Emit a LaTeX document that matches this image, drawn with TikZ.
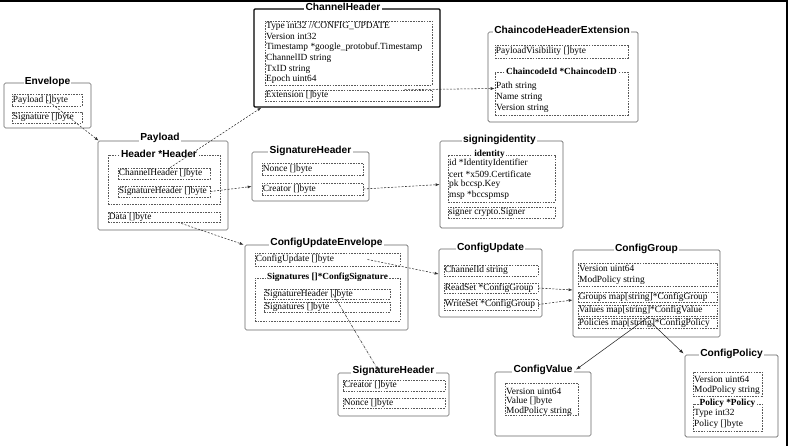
\documentclass[tikz,border=0pt]{standalone}
\usepackage{fontspec}
\setmainfont{Liberation Serif}
\newfontfamily\hsans{Liberation Sans}
\usetikzlibrary{fit,arrows.meta}
\tikzset{
  obox/.style={draw=black!60, line width=0.7pt, rounded corners=1.5pt, inner sep=0pt},
  hbox/.style={draw=black, line width=1.3pt, rounded corners=1pt, inner sep=0pt},
  dbox/.style={draw=black!65, line width=0.55pt, dash pattern=on 1.6pt off 1.1pt, inner sep=0pt},
  ttl/.style={fill=white, inner sep=1.2pt, font=\hsans\bfseries\fontsize{10.2}{12}\selectfont},
  dttl/.style={fill=white, inner sep=1pt, font=\bfseries\fontsize{9.3}{11}\selectfont},
  txt/.style={anchor=west, inner sep=0pt, font=\fontsize{9.4}{11}\selectfont},
  conn/.style={draw=black!80, line width=0.55pt, dash pattern=on 2pt off 1.5pt, -{Latex[length=4pt,width=3pt]}},
  conndd/.style={draw=black!80, line width=0.55pt, dash pattern=on 3pt off 1.2pt on 0.6pt off 1.2pt, -{Latex[length=4pt,width=3pt]}},
  solidarr/.style={draw=black!85, line width=0.55pt, -{Latex[length=4.5pt,width=3.2pt]}}
}
\begin{document}
\begin{tikzpicture}[x=1pt,y=-1pt]
\useasboundingbox (0,0) rectangle (788,446);
\fill[black] (0,0) rectangle (788,2.5);
\fill[black] (785.5,0) rectangle (788,446);

% ---------- Envelope
\node[obox, fit={(4,83)(91,128)}] (env) {};
\node[ttl] (envt) at ([yshift=1pt]env.north) {Envelope};
\node[dbox, fit={(12,94)(82,106)}] (envpay) {};
\node[txt] (envpayt) at ([xshift=1pt]envpay.west) {Payload []byte};
\node[dbox, fit={(12,112)(82,123)}] (envsig) {};
\node[txt] (envsigt) at ([xshift=1pt]envsig.west) {Signature []byte};

% ---------- Payload
\node[obox, fit={(98,141)(228,230)}] (pl) {};
\node[ttl] (plt) at ([xshift=-3pt,yshift=3pt]pl.north) {Payload};
\node[dbox, fit={(108,155)(220,204)}] (hdr) {};
\node[ttl, inner sep=0.8pt] (hdrt) at ([xshift=-5pt,yshift=1pt]hdr.north) {Header *Header};
\node[dbox, fit={(118,168)(210,179)}] (plch) {};
\node[txt] (plcht) at ([xshift=1pt]plch.west) {ChannelHeader []byte};
\node[dbox, fit={(118,186)(210,197)}] (plsh) {};
\node[txt] (plsht) at ([xshift=1pt]plsh.west) {SignatureHeader []byte};
\node[dbox, fit={(108,212)(220,222)}] (pldata) {};
\node[txt] (pldatat) at ([xshift=1pt]pldata.west) {Data []byte};

% ---------- ChannelHeader
\node[hbox, fit={(254,9)(440,107)}] (ch) {};
\node[ttl] (cht) at ([xshift=-4pt,yshift=1pt]ch.north) {ChannelHeader};
\node[dbox, fit={(265,21)(432,85)}] (chf) {};
\node[txt] (ch1) at (266,26) {Type int32 //CONFIG\_UPDATE};
\node[txt] (ch2) at (266,36.5) {Version int32};
\node[txt] (ch3) at (266,47.5) {Timestamp *google\_protobuf.Timestamp};
\node[txt] (ch4) at (266,58.5) {ChannelID string};
\node[txt] (ch5) at (266,69) {TxID string};
\node[txt] (ch6) at (266,79.5) {Epoch uint64};
\node[dbox, fit={(265,90)(432,101)}] (chext) {};
\node[txt] (chextt) at ([xshift=1pt]chext.west) {Extension []byte};

% ---------- ChaincodeHeaderExtension
\node[obox, fit={(488,32)(638,122)}] (che) {};
\node[ttl] (chet) at ([xshift=-1pt,yshift=1.5pt]che.north) {ChaincodeHeaderExtension};
\node[dbox, fit={(495,45)(628,58)}] (chepv) {};
\node[txt] (chepvt) at ([xshift=1pt]chepv.west) {PayloadVisibility []byte};
\node[dbox, fit={(495,72)(628,115)}] (cheid) {};
\node[dttl] (cheidt) at (cheid.north) {ChaincodeId *ChaincodeID};
\node[txt] (che1) at (496,86) {Path string};
\node[txt] (che2) at (496,97) {Name string};
\node[txt] (che3) at (496,108) {Version string};

% ---------- SignatureHeader (top)
\node[obox, fit={(252,152)(369,201)}] (sh1) {};
\node[ttl] (sh1t) at ([yshift=1pt]sh1.north) {SignatureHeader};
\node[dbox, fit={(262,163)(363,175)}] (sh1n) {};
\node[txt] (sh1nt) at ([xshift=1pt]sh1n.west) {Nonce []byte};
\node[dbox, fit={(262,183)(363,195)}] (sh1c) {};
\node[txt] (sh1ct) at ([xshift=1pt]sh1c.west) {Creator []byte};

% ---------- signingidentity
\node[obox, fit={(440,141)(563,228)}] (si) {};
\node[ttl] (sit) at ([xshift=-2pt,yshift=1pt]si.north) {signingidentity};
\node[dbox, fit={(448,155)(555,202)}] (siid) {};
\node[dttl] (siidt) at ([xshift=-12pt]siid.north) {identity};
\node[txt] (si1) at (449,163) {id *IdentityIdentifier};
\node[txt] (si2) at (449,174) {cert *x509.Certificate};
\node[txt] (si3) at (449,184.5) {pk bccsp.Key};
\node[txt] (si4) at (449,195) {msp *bccspmsp};
\node[dbox, fit={(448,207)(555,218)}] (sisg) {};
\node[txt] (sisgt) at ([xshift=1pt]sisg.west) {signer crypto.Signer};

% ---------- ConfigUpdateEnvelope
\node[obox, fit={(245,245)(408,330)}] (cue) {};
\node[ttl] (cuet) at ([yshift=1.5pt]cue.north) {ConfigUpdateEnvelope};
\node[dbox, fit={(255,253)(400,266)}] (cuecu) {};
\node[txt] (cuecut) at ([xshift=1pt]cuecu.west) {ConfigUpdate []byte};
\node[dbox, fit={(255,278)(400,321)}] (cuesig) {};
\node[dttl] (cuesigt) at (cuesig.north) {Signatures []*ConfigSignature};
\node[dbox, fit={(264,289)(390,299)}] (cusigh) {};
\node[txt] (cusight) at ([xshift=1pt]cusigh.west) {SignatureHeader []byte};
\node[dbox, fit={(264,302)(390,312)}] (cusigs) {};
\node[txt] (cusigst) at ([xshift=1pt]cusigs.west) {Signatures []byte};

% ---------- ConfigUpdate
\node[obox, fit={(439,249)(542,317)}] (cu) {};
\node[ttl] (cut) at ([yshift=1pt]cu.north) {ConfigUpdate};
\node[dbox, fit={(444,265)(538,276)}] (cuci) {};
\node[txt] (cucit) at ([xshift=1pt]cuci.west) {ChannelId string};
\node[dbox, fit={(444,283)(538,293)}] (curs) {};
\node[txt] (curst) at ([xshift=1pt]curs.west) {ReadSet *ConfigGroup};
\node[dbox, fit={(444,299)(538,310)}] (cuws) {};
\node[txt] (cuwst) at ([xshift=1pt]cuws.west) {WriteSet *ConfigGroup};

% ---------- ConfigGroup
\node[obox, fit={(573,250)(720,337)}] (cg) {};
\node[ttl] (cgt) at ([yshift=1pt]cg.north) {ConfigGroup};
\node[dbox, fit={(578,263)(717,286)}] (cgv) {};
\node[txt] (cg1) at (579,268.5) {Version uint64};
\node[txt] (cg2) at (579,280) {ModPolicy string};
\node[dbox, fit={(578,292)(717,302)}] (cggr) {};
\node[txt] (cggrt) at ([xshift=1pt]cggr.west) {Groups map[string]*ConfigGroup};
\node[dbox, fit={(578,305)(717,316)}] (cgval) {};
\node[txt] (cgvalt) at ([xshift=1pt]cgval.west) {Values map[string]*ConfigValue};
\node[dbox, fit={(578,318)(717,328)}] (cgpol) {};
\node[txt] (cgpolt) at ([xshift=1pt]cgpol.west) {Policies map[string]*ConfigPolicy};

% ---------- SignatureHeader (bottom)
\node[obox, fit={(338,373)(449,416)}] (sh2) {};
\node[ttl] (sh2t) at ([yshift=1.5pt]sh2.north) {SignatureHeader};
\node[dbox, fit={(343,380)(445,391)}] (sh2c) {};
\node[txt] (sh2ct) at ([xshift=1pt]sh2c.west) {Creator []byte};
\node[dbox, fit={(343,398)(445,408)}] (sh2n) {};
\node[txt] (sh2nt) at ([xshift=1pt]sh2n.west) {Nonce []byte};

% ---------- ConfigValue
\node[obox, fit={(495,372)(591,436)}] (cv) {};
\node[ttl] (cvt) at ([yshift=2pt]cv.north) {ConfigValue};
\node[dbox, fit={(505,383)(578,415)}] (cvf) {};
\node[txt] (cv1) at (506,391.5) {Version uint64};
\node[txt] (cv2) at (506,401.5) {Value []byte};
\node[txt] (cv3) at (506,411) {ModPolicy string};

% ---------- ConfigPolicy
\node[obox, fit={(685,355)(778,437)}] (cp) {};
\node[ttl] (cpt) at ([yshift=1pt]cp.north) {ConfigPolicy};
\node[dbox, fit={(693,372)(762,396)}] (cpv) {};
\node[txt] (cp1) at (694,379.5) {Version uint64};
\node[txt] (cp2) at (694,390) {ModPolicy string};
\node[dbox, fit={(693,404)(762,431)}] (cpp) {};
\node[dttl] (cppt) at (cpp.north) {Policy *Policy};
\node[txt] (cp3) at (694,413.5) {Type int32};
\node[txt] (cp4) at (694,424) {Policy []byte};

% ---------- connectors
\draw[conn] (envpay.center) -- ([xshift=1pt]pl.north west);
\draw[conn] ([xshift=6pt]plch.north) -- ([xshift=8pt]ch.south west);
\draw[conn] (plsh.east) -- ([yshift=-10pt]sh1.west);
\draw[conn] ([xshift=14pt]pldata.south) -- ([xshift=-1pt]cue.north west);
\draw[conn] ([xshift=56pt]chext.north) -- ([yshift=5pt]cheid.west);
\draw[conn] (sh1c.east) -- (si.west);
\draw[conn] ([xshift=40pt]cuecu.center) -- ([yshift=9pt]cu.west);
\draw[conndd] ([xshift=6pt]cusigh.center) -- ([xshift=-15pt,yshift=2pt]sh2.north);
\draw[conn] (curs.east) -- ([yshift=3.5pt]cg.west);
\draw[conn] (cuws.east) -- ([yshift=-6.5pt]cg.west);
\draw[solidarr] ([xshift=2pt]cgval.south) -- ([xshift=33pt,yshift=2pt]cv.north);
\draw[solidarr] ([xshift=4pt]cgpol.center) -- ([xshift=-1pt,yshift=1pt]cp.north west);
\end{tikzpicture}
\end{document}
